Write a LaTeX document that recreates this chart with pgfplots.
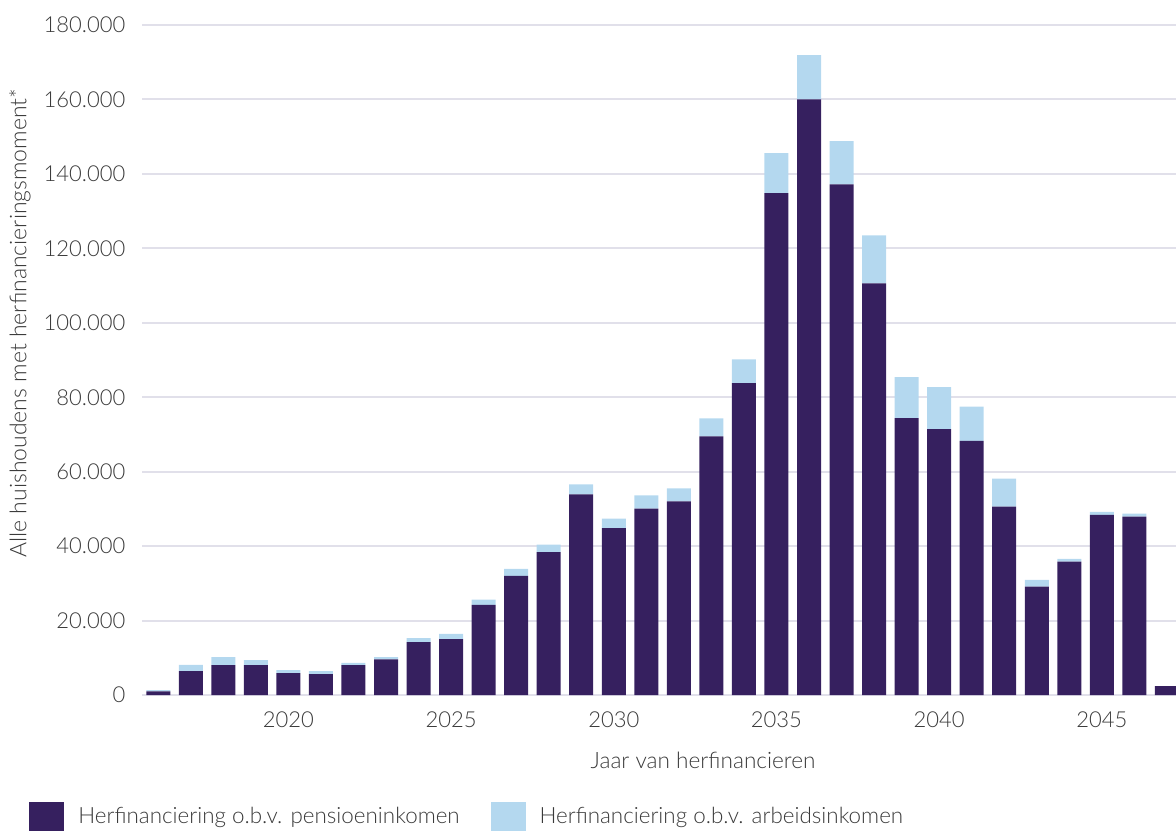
\documentclass[border=0pt]{standalone}
\usepackage{fontspec}
\IfFontExistsTF{Lato Light}{\setmainfont{Lato Light}}{\setmainfont{Lato}}
\usepackage{pgfplots}
\usepackage{pgfplotstable}
\pgfplotsset{compat=1.18}

\definecolor{pensioen}{HTML}{36205F}
\definecolor{arbeid}{HTML}{B4D8EF}
\definecolor{gridcol}{HTML}{E1E0EA}
\definecolor{textgray}{HTML}{3A3A3A}

% jaar, herfinanciering o.b.v. pensioeninkomen, o.b.v. arbeidsinkomen
\pgfplotstableread{
jaar pensioen arbeid
2016 1000 300
2017 6400 1700
2018 8000 2200
2019 8000 1400
2020 5900 800
2021 5600 800
2022 8000 600
2023 9600 600
2024 14200 1100
2025 15000 1400
2026 24200 1400
2027 32000 1900
2028 38400 2000
2029 53900 2700
2030 44800 2600
2031 50100 3500
2032 52000 3500
2033 69500 4850
2034 83800 6400
2035 134800 10800
2036 160000 11900
2037 137200 11600
2038 110600 12900
2039 74400 11000
2040 71400 11300
2041 68300 9200
2042 50600 7500
2043 29100 1800
2044 35800 800
2045 48400 800
2046 47900 800
2047 2400 0
}\datatable

\begin{document}
\begin{tikzpicture}
\path[use as bounding box] (-71pt,-67.5pt) rectangle (517pt,347.5pt);
\begin{axis}[
    scale only axis,
    width=517pt, height=335pt,
    xmin=2015.5, xmax=2047.28,
    ymin=0, ymax=180000,
    ybar stacked,
    bar width=12pt,
    axis line style={draw=none},
    major tick length=0pt,
    xtick={2020,2025,...,2045},
    ytick={0,20000,...,180000},
    scaled y ticks=false,
    scaled x ticks=false,
    ymajorgrids,
    grid style={gridcol, line width=1pt},
    /pgf/number format/fixed,
    /pgf/number format/precision=0,
    /pgf/number format/assume math mode=true,
    tick label style={font=\fontsize{11}{13}\selectfont, text=textgray},
    xticklabel style={yshift=-5pt, /pgf/number format/1000 sep={}},
    yticklabel style={xshift=-4.8pt, /pgf/number format/1000 sep={.}},
    xlabel={Jaar van herfinancieren},
    ylabel={Alle huishoudens met herfinancieringsmoment*},
    every axis x label/.style={at={(rel axis cs:0.5426,-0.097)}, anchor=center,
        font=\fontsize{11.3}{13}\selectfont, text=textgray},
    every axis y label/.style={at={(rel axis cs:-0.118,0.555)}, rotate=90, anchor=center,
        font=\fontsize{11.5}{13}\selectfont, text=textgray},
    legend columns=2,
    legend image code/.code={%
        \fill[#1] (0pt,-7.5pt) rectangle (17.5pt,7.5pt);
        \path (22.5pt,0pt);},
    legend style={
        draw=none, fill=none,
        at={(rel axis cs:-0.1093,-0.182)}, anchor=west,
        inner sep=0pt,
        font=\fontsize{11.2}{13}\selectfont, text=textgray,
        /tikz/every even column/.append style={column sep=13.5pt},
    },
]
\addplot[fill=pensioen, draw=none] table[x=jaar, y=pensioen] {\datatable};
\addlegendentry{Herfinanciering o.b.v. pensioeninkomen}
\addplot[fill=arbeid, draw=none] table[x=jaar, y=arbeid] {\datatable};
\addlegendentry{Herfinanciering o.b.v. arbeidsinkomen}
\end{axis}
\end{tikzpicture}
\end{document}
